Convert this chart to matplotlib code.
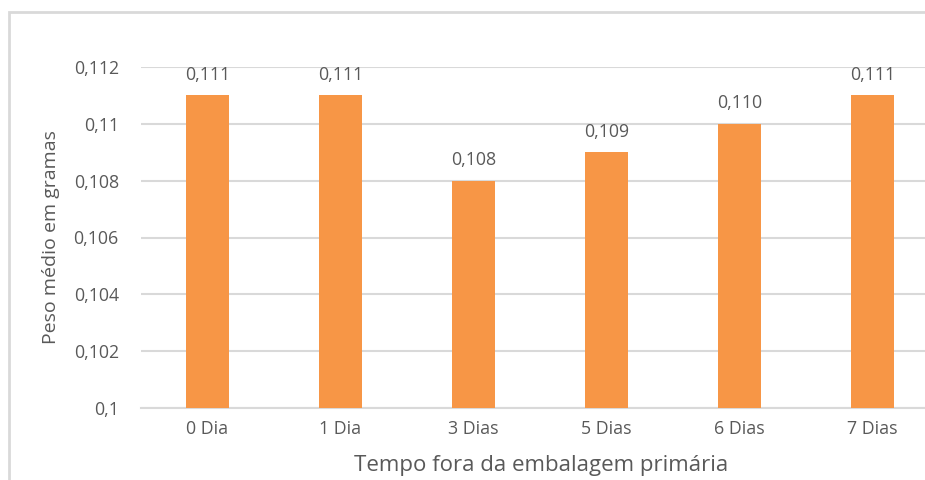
import matplotlib.pyplot as plt
from matplotlib.patches import Rectangle

categories = ["0 Dia", "1 Dia", "3 Dias", "5 Dias", "6 Dias", "7 Dias"]
peso_medio = [0.111, 0.111, 0.108, 0.109, 0.110, 0.111]
y_ticks = [0.1, 0.102, 0.104, 0.106, 0.108, 0.11, 0.112]
y_tick_labels = ["0,1", "0,102", "0,104", "0,106", "0,108", "0,11", "0,112"]

text_color = "#595959"
grid_color = "#D9D9D9"
bar_color = "#F79646"

plt.rcParams["font.family"] = ["Open Sans", "DejaVu Sans"]

fig = plt.figure(figsize=(9.25, 4.8), dpi=100)
W, H = 925, 480
# plot area (pixel based); runs past the right edge like the cropped original
left, right, top, bottom = 141, 939, 67, 408
ax = fig.add_axes([left / W, 1 - bottom / H, (right - left) / W, (bottom - top) / H])

x = range(len(categories))
ax.bar(x, peso_medio, width=0.32, color=bar_color, zorder=3)
for xi, v in zip(x, peso_medio):
    ax.text(xi, v + 0.00072, f"{v:.3f}".replace(".", ","), ha="center", va="center",
            fontsize=12.8, color=text_color, clip_on=False)

ax.set_xlim(-0.5, len(categories) - 0.5)
ax.set_ylim(0.1, 0.112)
ax.set_yticks(y_ticks)
ax.set_yticklabels(y_tick_labels)
ax.set_xticks(list(x))
ax.set_xticklabels(categories)
ax.tick_params(axis="both", length=0, labelsize=12.8, colors=text_color)
ax.tick_params(axis="y", pad=16)
ax.tick_params(axis="x", pad=9)
ax.yaxis.grid(True, color=grid_color, linewidth=1.5, zorder=0)
for side in ["top", "right", "left"]:
    ax.spines[side].set_visible(False)
ax.spines["bottom"].set_color(grid_color)
ax.spines["bottom"].set_linewidth(1.5)

ax.set_ylabel("Peso médio em gramas", fontsize=14, color=text_color, labelpad=10)
fig.text(541 / W, 1 - 465 / H, "Tempo fora da embalagem primária", ha="center", va="center",
         fontsize=16, color=text_color)

fig.patches.append(Rectangle((9 / W, -0.1), 2, 1 - 12 / H + 0.1, transform=fig.transFigure,
                             fill=False, edgecolor=grid_color, linewidth=2))

fig.savefig("out.png", dpi=100)
